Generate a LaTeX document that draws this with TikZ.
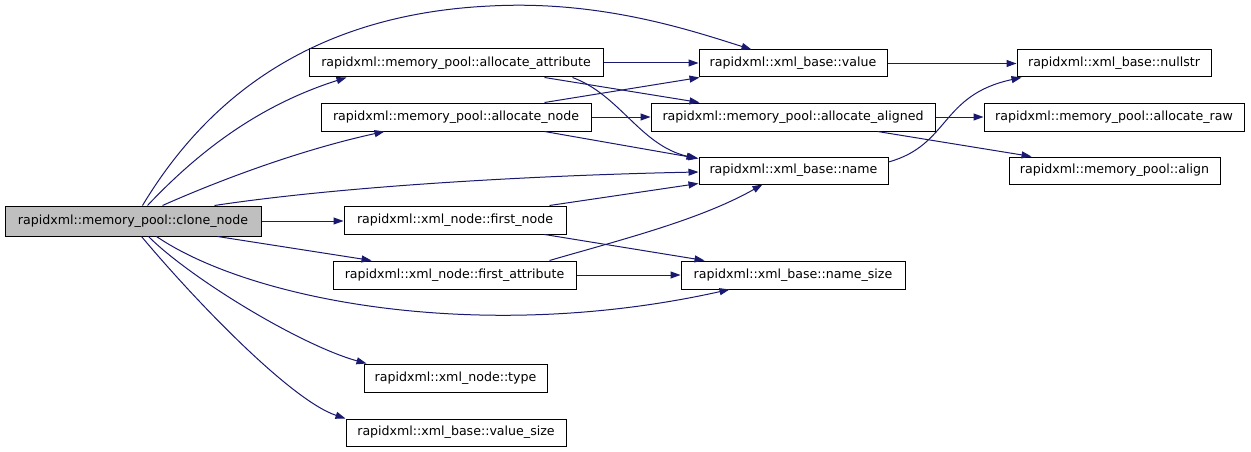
\documentclass[tikz,border=0pt]{standalone}
\usepackage{fontspec}
\setmainfont{DejaVu Sans}
\usetikzlibrary{arrows.meta,calc}
\definecolor{edgeblue}{HTML}{191970}
\definecolor{rootgray}{HTML}{BFBFBF}
\begin{document}
\begin{tikzpicture}[x=1pt,y=-1pt,
  box/.style={draw=black,line width=1pt,fill=white,inner sep=0pt,
    font=\fontsize{12.6}{15}\selectfont},
  edge/.style={draw=edgeblue,line width=1pt,-{Triangle[length=10pt,width=7pt]}}]
\useasboundingbox (0,0) rectangle (1251,452);
\node[box,fill=rootgray,minimum width=256pt,minimum height=30pt] (clone) at (133,221) {rapidxml::memory\_pool::clone\_node};
\node[box,minimum width=294pt,minimum height=28pt] (aatt) at (456,63) {rapidxml::memory\_pool::allocate\_attribute};
\node[box,minimum width=270pt,minimum height=28pt] (anode) at (456,117) {rapidxml::memory\_pool::allocate\_node};
\node[box,minimum width=188pt,minimum height=27pt] (value) at (793,63.5) {rapidxml::xml\_base::value};
\node[box,minimum width=284pt,minimum height=28pt] (aal) at (793,117) {rapidxml::memory\_pool::allocate\_aligned};
\node[box,minimum width=189pt,minimum height=27pt] (name) at (793.5,170.5) {rapidxml::xml\_base::name};
\node[box,minimum width=194pt,minimum height=27pt] (nullstr) at (1114,63.5) {rapidxml::xml\_base::nullstr};
\node[box,minimum width=260pt,minimum height=28pt] (araw) at (1114,117) {rapidxml::memory\_pool::allocate\_raw};
\node[box,minimum width=211pt,minimum height=27pt] (align) at (1114.5,170.5) {rapidxml::memory\_pool::align};
\node[box,minimum width=222pt,minimum height=28pt] (fnode) at (455,220) {rapidxml::xml\_node::first\_node};
\node[box,minimum width=243pt,minimum height=28pt] (fattr) at (454.5,275) {rapidxml::xml\_node::first\_attribute};
\node[box,minimum width=224pt,minimum height=28pt] (nsize) at (793,275) {rapidxml::xml\_base::name\_size};
\node[box,minimum width=183pt,minimum height=28pt] (type) at (455.5,378) {rapidxml::xml\_node::type};
\node[box,minimum width=220pt,minimum height=27pt] (vsize) at (456,432.5) {rapidxml::xml\_base::value\_size};

% from clone_node
\draw[edge] ($(clone.north west)+(138,0)$) .. controls (200,110) and (300,15) .. (490,6) .. controls (600,0) and (690,30) .. ($(value.north west)+(53,0)$);
\draw[edge] ($(clone.north west)+(143,0)$) .. controls (200,150) and (260,105) .. ($(aatt.south west)+(38,0)$);
\draw[edge] ($(clone.north west)+(158,0)$) .. controls (220,180) and (300,150) .. ($(anode.south west)+(64,0)$);
\draw[edge] ($(clone.north west)+(210,0)$) .. controls (350,185) and (550,175) .. ($(name.west)+(0,1.5)$);
\draw[edge] (clone.east) -- (clone.east -| fnode.west);
\draw[edge] ($(clone.south west)+(213,0)$) -- ($(fattr.north west)+(39,0)$);
\draw[edge] ($(clone.south west)+(152,0)$) .. controls (250,300) and (480,345) .. ($(nsize.south west)+(49,0)$);
\draw[edge] ($(clone.south west)+(144,0)$) .. controls (190,278) and (300,345) .. ($(type.north west)+(3,0)$);
\draw[edge] ($(clone.south west)+(137,0)$) .. controls (192,297) and (290,400) .. (vsize.north west);

% allocate_attribute
\draw[edge] (aatt.east) -- (aatt.east -| value.west);
\draw[edge] ($(aatt.south west)+(236,0)$) -- ($(aal.north west)+(49,0)$);
\draw[edge] ($(aatt.south west)+(264,0)$) .. controls (620,95) and (640,145) .. ($(name.north west)+(-2,2)$);

% allocate_node
\draw[edge] ($(anode.north west)+(224,0)$) -- ($(value.south west)+(1,0)$);
\draw[edge] (anode.east) -- (aal.west);
\draw[edge] ($(anode.south west)+(224,0)$) -- ($(name.north west)+(0,2)$);

% first_node
\draw[edge] ($(fnode.north west)+(206,0)$) -- ($(name.south west)+(0,-1)$);
\draw[edge] ($(fnode.south west)+(201,0)$) -- ($(nsize.north west)+(24,0)$);

% first_attribute
\draw[edge] ($(fattr.north west)+(217,0)$) .. controls (620,240) and (700,220) .. ($(name.south west)+(64,0)$);
\draw[edge] (fattr.east) -- (nsize.west);

% value, name
\draw[edge] (value.east) -- (value.east -| nullstr.west);
\draw[edge] ($(name.east)+(0,-8.5)$) .. controls (950,145) and (940,95) .. ($(nullstr.south west)+(5,0)$);

% allocate_aligned
\draw[edge] (aal.east) -- (araw.west);
\draw[edge] ($(aal.south west)+(227,0)$) -- ($(align.north west)+(23,0)$);
\end{tikzpicture}
\end{document}
